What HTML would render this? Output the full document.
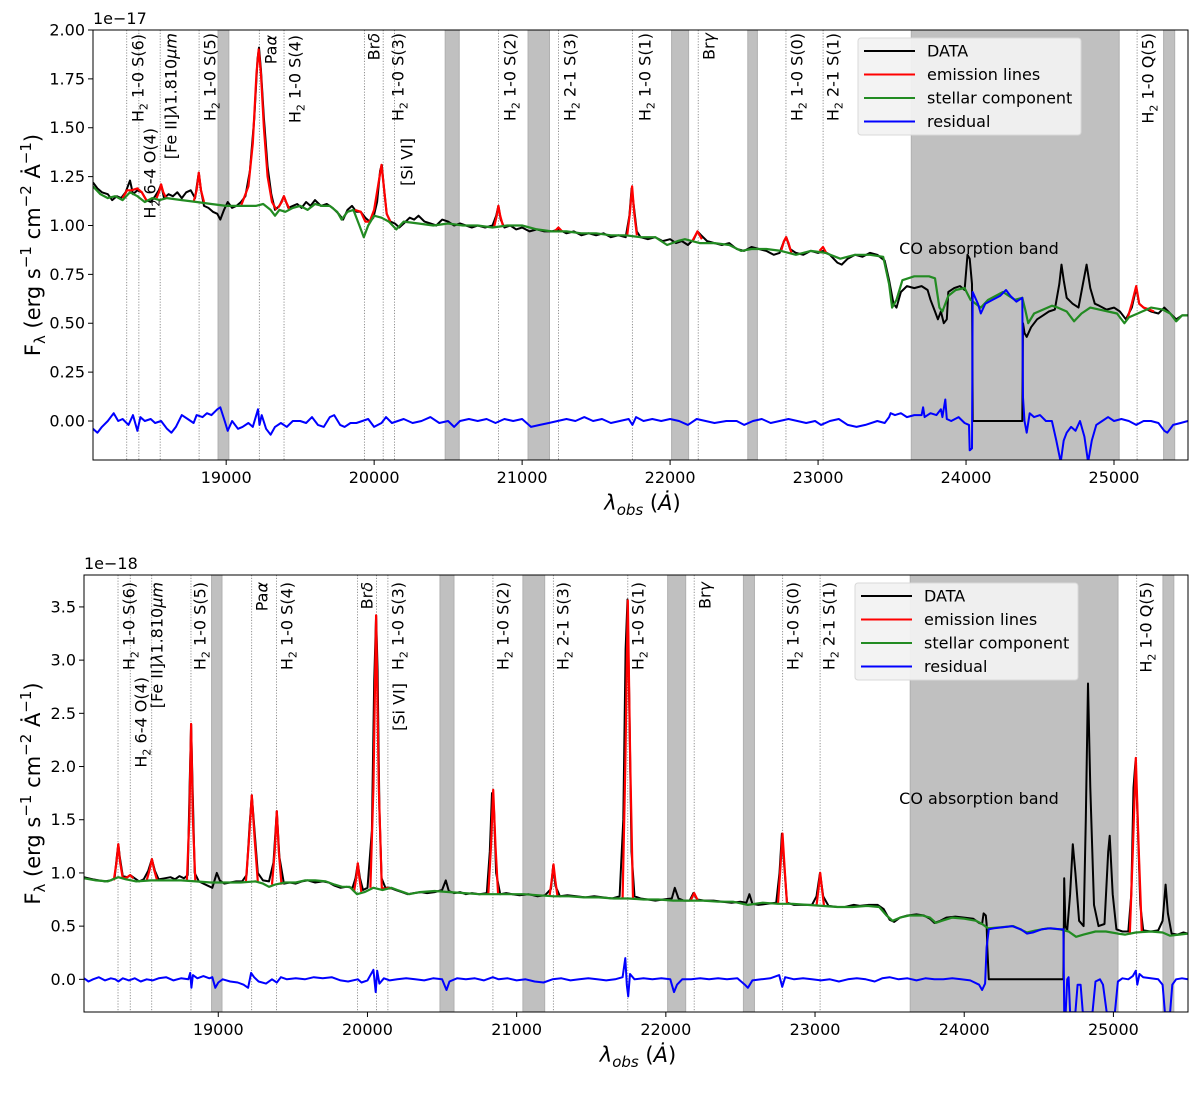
<!DOCTYPE html>
<html><head><meta charset="utf-8"><style>
body{margin:0;background:#fff}
svg{display:block;font-family:"DejaVu Sans","Liberation Sans",sans-serif}
</style></head><body>
<svg id="fig" width="1200" height="1096" viewBox="0 0 1200 1096" xmlns="http://www.w3.org/2000/svg">
<rect width="1200" height="1096" fill="#fff"/>
</svg>
<script>
// ---------- shared data ----------
const xTicks=[19000,20000,21000,22000,23000,24000,25000];
const bandsTop=[[18945,19018],[20480,20575],[21040,21185],[22010,22125],[22525,22590],[23630,25035],[25335,25410]];
const bandsBot=[[18955,19025],[20486,20580],[21042,21188],[22012,22133],[22520,22594],[23638,25031],[25332,25405]];
const lineWaves=[18328,18410,18554,18817,19224,19391,19934,20061,20137,20841,21246,21745,22190,22783,23034,25156];
const labelText=["H2 1-0 S(6)","H2 6-4 O(4)","[Fe II]λ1.810μm","H2 1-0 S(5)","Paα","H2 1-0 S(4)","Brδ","H2 1-0 S(3)","[Si VI]","H2 1-0 S(2)","H2 2-1 S(3)","H2 1-0 S(1)","Brγ","H2 1-0 S(0)","H2 2-1 S(1)","H2 1-0 Q(5)"];
const labelPxTop=[138,150,171,210,271,295,374,398,407,510,570,645,709,797,833,1148];
const labelTopTop=[34,128,33,33,35,35,33,33,138,33,33,33,33,33,33,33];
const labelPxBot=[129,141,157,200,262,287,367,398,399,503,563,638,705,793,829,1146];
const labelTopBot=[582,677,582,582,582,582,582,582,683,582,582,582,582,582,582,582];

// ---------- top panel data (1e-17) ----------
const topYTicks=[0,0.25,0.5,0.75,1.0,1.25,1.5,1.75,2.0];
const topYTickLabels=["0.00","0.25","0.50","0.75","1.00","1.25","1.50","1.75","2.00"];
const topData=[[18100,1.22],[18130,1.19],[18160,1.17],[18200,1.16],[18230,1.13],[18260,1.15],[18290,1.14],[18320,1.17],[18350,1.23],[18370,1.16],[18400,1.18],[18430,1.17],[18460,1.13],[18490,1.12],[18520,1.15],[18545,1.18],[18560,1.21],[18580,1.14],[18610,1.16],[18640,1.15],[18670,1.17],[18700,1.14],[18730,1.17],[18760,1.18],[18790,1.14],[18805,1.22],[18815,1.27],[18830,1.18],[18850,1.10],[18880,1.09],[18910,1.07],[18940,1.06],[18960,1.03],[18985,1.08],[19010,1.12],[19040,1.09],[19070,1.10],[19100,1.12],[19130,1.15],[19160,1.28],[19190,1.55],[19212,1.85],[19222,1.91],[19235,1.80],[19255,1.55],[19280,1.30],[19305,1.16],[19330,1.08],[19360,1.10],[19390,1.15],[19420,1.09],[19450,1.10],[19480,1.11],[19510,1.09],[19540,1.12],[19570,1.10],[19600,1.13],[19640,1.10],[19680,1.11],[19720,1.09],[19760,1.06],[19790,1.03],[19820,1.08],[19850,1.10],[19880,1.07],[19910,1.07],[19940,1.04],[19970,1.02],[19995,1.04],[20020,1.12],[20040,1.28],[20052,1.31],[20065,1.20],[20085,1.06],[20110,1.02],[20140,1.01],[20170,0.99],[20200,1.01],[20240,1.04],[20270,1.03],[20300,1.05],[20340,1.02],[20380,1.01],[20420,1.00],[20460,1.03],[20500,1.02],[20540,1.00],[20580,1.01],[20620,1.00],[20660,0.99],[20700,1.00],[20750,0.99],[20800,1.00],[20825,1.05],[20840,1.10],[20855,1.03],[20880,0.99],[20920,1.00],[20960,0.98],[21000,0.99],[21050,0.97],[21100,0.98],[21150,0.97],[21200,0.97],[21245,0.98],[21300,0.96],[21350,0.97],[21400,0.95],[21450,0.96],[21500,0.95],[21550,0.96],[21600,0.94],[21650,0.95],[21700,0.94],[21725,1.05],[21740,1.19],[21755,1.10],[21775,0.97],[21800,0.94],[21850,0.93],[21900,0.94],[21950,0.92],[22000,0.93],[22040,0.91],[22080,0.92],[22120,0.90],[22160,0.93],[22185,0.97],[22210,0.95],[22250,0.92],[22300,0.91],[22350,0.90],[22400,0.91],[22450,0.88],[22500,0.87],[22550,0.89],[22600,0.88],[22650,0.87],[22700,0.85],[22740,0.86],[22770,0.92],[22785,0.94],[22810,0.88],[22850,0.86],[22900,0.85],[22950,0.87],[23000,0.86],[23035,0.87],[23080,0.85],[23130,0.81],[23160,0.80],[23200,0.83],[23250,0.85],[23300,0.84],[23350,0.86],[23400,0.85],[23450,0.82],[23480,0.72],[23510,0.60],[23530,0.58],[23560,0.66],[23600,0.69],[23650,0.68],[23700,0.69],[23740,0.67],[23760,0.62],[23790,0.56],[23810,0.52],[23830,0.56],[23850,0.50],[23870,0.52],[23880,0.66],[23920,0.68],[23960,0.69],[23990,0.67],[24010,0.85],[24025,0.83],[24040,0.70],[24045,0.0],[24380,0.0],[24385,0.50],[24395,0.45],[24410,0.43],[24440,0.48],[24480,0.52],[24520,0.54],[24560,0.56],[24600,0.57],[24630,0.70],[24645,0.80],[24660,0.72],[24680,0.63],[24720,0.60],[24760,0.58],[24790,0.70],[24815,0.80],[24840,0.68],[24870,0.60],[24900,0.59],[24950,0.57],[25000,0.58],[25040,0.56],[25080,0.52],[25120,0.58],[25150,0.68],[25170,0.60],[25200,0.58],[25250,0.56],[25300,0.55],[25340,0.58],[25380,0.55],[25420,0.52],[25460,0.54],[25500,0.54]];
const topStellar=[[18100,1.20],[18150,1.16],[18200,1.14],[18250,1.15],[18300,1.13],[18350,1.17],[18400,1.15],[18450,1.12],[18500,1.14],[18550,1.13],[18600,1.14],[18700,1.13],[18800,1.12],[18900,1.11],[19000,1.10],[19100,1.10],[19200,1.10],[19250,1.11],[19300,1.08],[19330,1.05],[19360,1.08],[19400,1.07],[19450,1.09],[19500,1.10],[19550,1.08],[19600,1.11],[19650,1.10],[19700,1.10],[19750,1.07],[19780,1.03],[19820,1.07],[19860,1.08],[19900,1.00],[19930,0.94],[19960,1.00],[20000,1.05],[20050,1.04],[20100,1.02],[20150,0.98],[20200,1.02],[20300,1.01],[20400,1.00],[20500,1.01],[20600,1.00],[20700,1.00],[20800,0.99],[20900,1.00],[21000,1.00],[21100,0.98],[21200,0.97],[21300,0.97],[21400,0.96],[21500,0.96],[21600,0.95],[21700,0.95],[21800,0.94],[21900,0.94],[21980,0.90],[22050,0.92],[22100,0.93],[22200,0.91],[22300,0.91],[22400,0.90],[22480,0.87],[22550,0.88],[22650,0.88],[22750,0.87],[22850,0.85],[22950,0.87],[23050,0.86],[23150,0.83],[23250,0.85],[23350,0.85],[23440,0.84],[23480,0.70],[23500,0.58],[23530,0.62],[23570,0.72],[23650,0.74],[23750,0.74],[23790,0.73],[23820,0.58],[23840,0.56],[23880,0.64],[23930,0.67],[23990,0.68],[24030,0.62],[24100,0.58],[24150,0.62],[24250,0.66],[24330,0.62],[24380,0.63],[24400,0.57],[24420,0.50],[24460,0.55],[24520,0.57],[24580,0.59],[24620,0.58],[24680,0.56],[24730,0.51],[24780,0.55],[24840,0.58],[24900,0.57],[24960,0.56],[25020,0.55],[25070,0.50],[25100,0.53],[25160,0.55],[25250,0.58],[25330,0.57],[25380,0.55],[25420,0.51],[25460,0.54],[25500,0.54]];
const topResidual=[[18100,-0.04],[18130,-0.06],[18160,-0.03],[18200,0.0],[18240,0.04],[18270,0.0],[18300,0.01],[18340,-0.02],[18370,0.03],[18400,-0.05],[18420,0.02],[18450,0.0],[18490,0.01],[18520,-0.01],[18560,0.0],[18600,-0.04],[18630,-0.06],[18660,-0.03],[18700,0.03],[18740,0.01],[18780,-0.01],[18800,0.03],[18840,0.02],[18870,0.04],[18900,0.03],[18940,0.06],[18960,0.07],[18990,0.0],[19010,-0.05],[19040,0.0],[19080,-0.04],[19110,-0.03],[19150,-0.01],[19180,-0.03],[19215,0.06],[19225,-0.02],[19240,0.03],[19270,-0.04],[19300,-0.07],[19330,-0.03],[19370,-0.01],[19410,-0.03],[19450,0.0],[19500,0.0],[19540,-0.01],[19580,0.02],[19620,-0.02],[19660,-0.03],[19700,0.02],[19730,0.03],[19770,-0.02],[19800,-0.03],[19840,-0.01],[19880,-0.01],[19920,0.0],[19960,0.01],[20000,-0.03],[20050,-0.01],[20080,0.02],[20120,-0.01],[20160,0.0],[20200,0.01],[20260,-0.01],[20320,0.0],[20380,0.02],[20440,-0.01],[20500,0.0],[20540,-0.03],[20580,0.0],[20640,0.01],[20700,0.0],[20760,0.01],[20820,-0.01],[20880,0.01],[20940,0.0],[21000,0.01],[21060,-0.03],[21120,-0.02],[21180,-0.01],[21240,0.0],[21300,0.01],[21360,0.0],[21420,0.02],[21480,0.0],[21540,0.01],[21600,-0.01],[21660,0.0],[21720,0.01],[21745,-0.02],[21770,0.02],[21820,0.0],[21880,0.01],[21940,0.0],[22000,0.01],[22060,0.0],[22120,-0.02],[22180,0.01],[22240,0.0],[22300,-0.01],[22380,0.0],[22450,0.0],[22500,-0.02],[22560,0.0],[22620,0.01],[22680,-0.01],[22740,0.0],[22800,0.01],[22860,0.0],[22920,-0.01],[22980,0.0],[23020,-0.02],[23080,0.0],[23140,0.01],[23200,-0.02],[23260,-0.03],[23320,-0.02],[23400,0.0],[23450,-0.01],[23480,0.02],[23490,0.04],[23520,0.03],[23560,0.04],[23600,0.02],[23650,0.03],[23700,0.03],[23710,0.07],[23720,0.02],[23760,0.04],[23800,0.03],[23830,0.06],[23840,0.02],[23860,0.11],[23870,0.01],[23900,0.0],[23950,0.02],[23990,-0.01],[24020,-0.02],[24025,-0.15],[24040,-0.14],[24045,0.66],[24080,0.60],[24100,0.55],[24130,0.60],[24180,0.62],[24230,0.64],[24270,0.67],[24300,0.64],[24340,0.61],[24380,0.63],[24385,0.12],[24395,0.0],[24410,-0.06],[24430,0.04],[24460,0.02],[24500,0.03],[24540,0.0],[24580,0.0],[24610,-0.10],[24640,-0.21],[24660,-0.10],[24680,-0.06],[24710,-0.03],[24740,-0.05],[24770,0.0],[24800,-0.08],[24825,-0.21],[24850,-0.10],[24880,-0.02],[24920,0.0],[24960,0.02],[25000,0.0],[25050,0.01],[25100,0.0],[25150,-0.02],[25200,0.0],[25250,0.0],[25300,-0.01],[25340,-0.05],[25360,-0.06],[25400,-0.02],[25450,-0.01],[25500,0.0]];
const topLines=[[18300,1.14],[18330,1.18],[18360,1.18],[18400,1.19],[18430,1.17],[18460,1.13],null,[18530,1.14],[18550,1.18],[18560,1.21],[18575,1.17],[18595,1.14],null,[18780,1.12],[18800,1.18],[18815,1.27],[18830,1.18],[18850,1.12],null,[19100,1.10],[19150,1.20],[19180,1.42],[19205,1.78],[19220,1.90],[19235,1.78],[19255,1.50],[19280,1.25],[19310,1.12],[19340,1.08],null,[19350,1.09],[19375,1.12],[19390,1.15],[19405,1.12],[19430,1.08],null,[19870,1.08],[19910,1.07],[19940,1.02],[19970,1.02],[20000,1.08],[20030,1.22],[20050,1.31],[20065,1.20],[20085,1.06],[20110,1.02],null,[20810,0.99],[20828,1.05],[20840,1.10],[20852,1.05],[20870,1.00],null,[21220,0.97],[21245,0.99],[21270,0.97],null,[21710,0.95],[21728,1.06],[21743,1.20],[21758,1.06],[21776,0.95],null,[22150,0.92],[22185,0.97],[22215,0.93],null,[22750,0.87],[22770,0.92],[22784,0.94],[22800,0.91],[22820,0.86],null,[23010,0.87],[23033,0.89],[23055,0.86],null,[25090,0.52],[25120,0.60],[25150,0.69],[25170,0.60],[25200,0.58],[25240,0.57],[25270,0.56]];

// ---------- bottom panel data (1e-18) ----------
const botYTicks=[0,0.5,1.0,1.5,2.0,2.5,3.0,3.5];
const botYTickLabels=["0.0","0.5","1.0","1.5","2.0","2.5","3.0","3.5"];
const botData=[[18100,0.96],[18130,0.95],[18160,0.94],[18200,0.93],[18240,0.92],[18280,0.93],[18305,0.95],[18320,1.15],[18330,1.27],[18340,1.15],[18360,0.97],[18390,0.96],[18410,0.98],[18440,0.95],[18470,0.92],[18500,0.94],[18530,1.02],[18555,1.13],[18575,1.02],[18600,0.94],[18640,0.95],[18680,0.96],[18710,0.94],[18740,0.97],[18770,0.95],[18795,0.98],[18808,1.80],[18818,2.40],[18828,1.80],[18842,1.00],[18870,0.92],[18900,0.90],[18930,0.88],[18960,0.86],[18990,1.00],[19010,0.93],[19040,0.90],[19080,0.91],[19120,0.92],[19160,0.92],[19190,0.98],[19210,1.45],[19225,1.73],[19240,1.45],[19265,1.00],[19300,0.93],[19340,0.92],[19370,1.10],[19392,1.58],[19410,1.15],[19440,0.90],[19480,0.91],[19520,0.90],[19560,0.92],[19600,0.93],[19650,0.91],[19700,0.92],[19740,0.91],[19780,0.88],[19820,0.86],[19860,0.87],[19900,0.86],[19920,0.95],[19935,1.09],[19950,0.95],[19970,0.84],[20000,0.86],[20030,1.40],[20045,2.80],[20058,3.42],[20068,2.90],[20080,1.60],[20095,0.95],[20120,0.86],[20150,0.86],[20190,0.84],[20230,0.82],[20270,0.80],[20310,0.81],[20360,0.82],[20400,0.81],[20450,0.82],[20500,0.84],[20525,0.93],[20545,0.83],[20580,0.81],[20620,0.82],[20660,0.80],[20700,0.81],[20750,0.80],[20800,0.81],[20820,1.20],[20835,1.75],[20848,1.60],[20862,1.00],[20890,0.80],[20930,0.81],[20970,0.80],[21020,0.79],[21080,0.80],[21140,0.78],[21190,0.79],[21230,0.85],[21245,1.07],[21260,0.88],[21290,0.78],[21340,0.79],[21400,0.78],[21460,0.77],[21520,0.78],[21580,0.77],[21640,0.76],[21690,0.78],[21715,1.50],[21730,3.10],[21743,3.57],[21755,2.60],[21770,1.20],[21790,0.78],[21830,0.76],[21880,0.75],[21930,0.74],[21980,0.75],[22040,0.76],[22060,0.86],[22085,0.76],[22120,0.74],[22160,0.74],[22185,0.81],[22210,0.75],[22260,0.74],[22320,0.74],[22380,0.73],[22440,0.72],[22500,0.73],[22540,0.72],[22560,0.80],[22580,0.71],[22620,0.70],[22680,0.71],[22740,0.72],[22762,1.00],[22778,1.37],[22792,1.10],[22812,0.72],[22860,0.70],[22920,0.70],[22980,0.70],[23010,0.78],[23033,1.00],[23055,0.78],[23090,0.69],[23150,0.68],[23200,0.68],[23260,0.70],[23300,0.69],[23360,0.70],[23420,0.70],[23460,0.66],[23500,0.56],[23530,0.54],[23570,0.58],[23620,0.60],[23680,0.61],[23730,0.60],[23770,0.57],[23800,0.53],[23840,0.55],[23880,0.58],[23940,0.59],[24000,0.58],[24060,0.57],[24100,0.53],[24120,0.52],[24130,0.62],[24145,0.60],[24150,0.52],[24155,0.30],[24165,0.0],[24665,0.0],[24670,0.95],[24678,0.50],[24690,0.46],[24710,0.80],[24728,1.27],[24745,1.00],[24770,0.55],[24800,0.50],[24815,1.50],[24830,2.78],[24845,1.80],[24870,0.70],[24900,0.50],[24940,0.52],[24965,1.20],[24975,1.35],[24995,0.80],[25020,0.47],[25060,0.45],[25100,0.45],[25120,0.80],[25135,1.80],[25148,2.05],[25160,1.60],[25180,0.70],[25200,0.46],[25250,0.45],[25300,0.46],[25330,0.55],[25350,0.89],[25365,0.62],[25390,0.43],[25430,0.42],[25470,0.44],[25500,0.43]];
const botStellar=[[18100,0.95],[18180,0.93],[18260,0.92],[18330,0.96],[18380,0.94],[18450,0.92],[18550,0.93],[18650,0.93],[18750,0.93],[18850,0.92],[18950,0.91],[19050,0.91],[19150,0.91],[19250,0.92],[19300,0.90],[19340,0.87],[19380,0.89],[19450,0.91],[19520,0.91],[19580,0.93],[19650,0.93],[19720,0.92],[19780,0.89],[19830,0.87],[19880,0.87],[19930,0.80],[19980,0.82],[20040,0.86],[20100,0.84],[20160,0.86],[20200,0.84],[20280,0.80],[20350,0.82],[20450,0.83],[20550,0.82],[20650,0.81],[20750,0.80],[20850,0.80],[20950,0.80],[21050,0.80],[21150,0.79],[21250,0.78],[21350,0.78],[21450,0.77],[21550,0.77],[21650,0.76],[21750,0.76],[21850,0.75],[21950,0.75],[22050,0.74],[22150,0.74],[22250,0.74],[22350,0.73],[22450,0.73],[22550,0.70],[22650,0.72],[22750,0.71],[22850,0.71],[22950,0.70],[23050,0.69],[23150,0.68],[23250,0.68],[23350,0.69],[23430,0.68],[23480,0.60],[23520,0.55],[23570,0.58],[23630,0.60],[23720,0.60],[23770,0.58],[23810,0.53],[23850,0.55],[23920,0.58],[24000,0.57],[24080,0.55],[24120,0.52],[24160,0.48],[24250,0.49],[24330,0.50],[24420,0.44],[24480,0.46],[24560,0.48],[24640,0.47],[24700,0.45],[24750,0.40],[24800,0.42],[24880,0.45],[24950,0.45],[25030,0.43],[25080,0.42],[25150,0.44],[25250,0.45],[25330,0.44],[25380,0.41],[25440,0.42],[25500,0.43]];
const botResidual=[[18100,0.01],[18130,-0.02],[18160,0.0],[18200,0.02],[18240,-0.01],[18280,0.01],[18310,0.0],[18330,-0.02],[18360,0.01],[18400,-0.01],[18440,0.01],[18480,-0.02],[18520,0.0],[18560,-0.01],[18600,0.01],[18650,0.02],[18700,-0.01],[18750,0.01],[18800,0.0],[18812,0.06],[18820,-0.08],[18830,0.04],[18860,0.01],[18900,0.03],[18940,0.01],[18960,0.02],[18980,-0.08],[19000,-0.03],[19030,0.0],[19080,-0.02],[19130,-0.03],[19170,-0.05],[19200,-0.08],[19220,0.06],[19240,0.02],[19270,-0.02],[19320,-0.04],[19360,0.0],[19392,-0.03],[19420,0.02],[19460,0.0],[19520,0.01],[19580,0.0],[19640,0.02],[19700,0.01],[19760,0.02],[19820,-0.01],[19870,-0.02],[19935,0.0],[19960,-0.03],[20000,-0.01],[20040,0.09],[20055,-0.12],[20065,0.08],[20080,-0.04],[20110,0.01],[20150,-0.01],[20200,0.0],[20260,0.01],[20320,0.0],[20380,-0.01],[20440,0.01],[20500,0.0],[20530,-0.10],[20550,-0.02],[20600,0.01],[20660,0.0],[20720,0.01],[20780,-0.01],[20840,0.02],[20880,0.0],[20940,0.01],[21000,-0.01],[21060,0.0],[21120,-0.02],[21180,-0.03],[21240,0.0],[21300,0.01],[21360,-0.01],[21420,0.0],[21480,0.01],[21540,0.0],[21600,-0.01],[21660,0.0],[21710,0.02],[21728,0.20],[21738,-0.05],[21748,-0.16],[21760,0.05],[21790,0.0],[21850,0.01],[21910,0.0],[21970,0.01],[22030,0.0],[22055,-0.12],[22075,-0.05],[22110,0.0],[22170,0.0],[22230,0.01],[22290,0.0],[22350,0.01],[22410,0.0],[22480,0.01],[22530,-0.05],[22550,-0.08],[22580,-0.01],[22640,0.0],[22700,0.01],[22760,0.04],[22780,-0.07],[22800,0.02],[22860,0.0],[22920,0.01],[22980,0.0],[23040,-0.01],[23100,0.0],[23160,-0.02],[23220,0.0],[23280,0.01],[23340,0.0],[23400,-0.02],[23450,0.01],[23500,0.02],[23560,0.0],[23620,0.01],[23680,-0.01],[23740,0.01],[23800,0.0],[23860,0.0],[23920,0.01],[23980,0.0],[24040,-0.01],[24100,-0.05],[24120,-0.10],[24140,-0.04],[24150,0.30],[24165,0.47],[24200,0.48],[24260,0.49],[24320,0.50],[24380,0.47],[24420,0.43],[24460,0.44],[24520,0.47],[24580,0.48],[24640,0.47],[24665,0.47],[24670,-0.30],[24680,-0.31],[24690,0.0],[24700,0.02],[24710,-0.31],[24745,-0.31],[24760,-0.05],[24780,-0.05],[24795,-0.31],[24860,-0.31],[24880,-0.02],[24910,0.0],[24930,-0.05],[24955,-0.31],[25010,-0.31],[25030,-0.02],[25060,0.01],[25100,0.0],[25130,0.03],[25150,0.08],[25160,-0.05],[25175,0.05],[25200,0.02],[25250,0.01],[25300,0.0],[25330,-0.05],[25345,-0.31],[25380,-0.31],[25395,-0.05],[25420,0.0],[25460,0.01],[25500,0.0]];
const botLines=[[18300,0.93],[18318,1.10],[18330,1.27],[18342,1.10],[18360,0.95],[18390,0.96],[18410,0.98],[18430,0.95],null,[18520,0.93],[18540,1.03],[18555,1.13],[18570,1.03],[18590,0.93],null,[18790,0.93],[18806,1.50],[18818,2.40],[18830,1.50],[18846,0.93],null,[19185,0.92],[19205,1.30],[19225,1.73],[19245,1.30],[19265,0.92],null,[19360,0.89],[19378,1.20],[19392,1.58],[19406,1.20],[19424,0.89],null,[19910,0.82],[19925,0.96],[19935,1.09],[19945,0.96],[19960,0.81],null,[20020,0.86],[20040,1.80],[20058,3.42],[20076,1.80],[20096,0.86],[20120,0.85],[20137,0.86],[20155,0.85],null,[20810,0.80],[20828,1.25],[20843,1.78],[20858,1.25],[20876,0.80],null,[21220,0.78],[21235,0.93],[21247,1.08],[21259,0.93],[21274,0.78],null,[21710,0.76],[21728,2.00],[21745,3.56],[21762,2.00],[21780,0.76],null,[22165,0.74],[22190,0.81],[22215,0.74],null,[22752,0.71],[22768,1.05],[22782,1.37],[22796,1.05],[22812,0.71],null,[23010,0.69],[23023,0.85],[23035,1.00],[23047,0.85],[23060,0.69],null,[25110,0.42],[25130,1.20],[25150,2.08],[25170,1.20],[25190,0.44]];

// ---------- drawing ----------
const NS="http://www.w3.org/2000/svg";
const svg=document.getElementById('fig');
function mk(tag,attrs,parent){const e=document.createElementNS(NS,tag);for(const k in attrs)e.setAttribute(k,attrs[k]);(parent||svg).appendChild(e);return e;}
function addSpan(t,txt,attrs){const s=document.createElementNS(NS,'tspan');for(const k in (attrs||{}))s.setAttribute(k,attrs[k]);s.textContent=txt;t.appendChild(s);}

function labelContent(t,txt){
  if(txt.startsWith("H2")){
    addSpan(t,"H");addSpan(t,"2",{'font-size':'11','dy':'4'});addSpan(t,txt.slice(2),{'dy':'-4'});
  } else if(txt.startsWith("[Fe")){
    addSpan(t,"[Fe II]");addSpan(t,"λ",{'font-style':'italic'});addSpan(t,"1.810");addSpan(t,"μm",{'font-style':'italic'});
  } else if(txt==="Paα"||txt==="Brδ"||txt==="Brγ"){
    addSpan(t,txt.slice(0,2));addSpan(t,txt.slice(2),{'font-style':'italic'});
  } else t.textContent=txt;
}

function panel(cfg){
  const L=cfg.left,R=cfg.right,T=cfg.top,B=cfg.bottom;
  const xT=w=>L+(w-18100)/(25500-18100)*(R-L);
  const yT=v=>B-(v-cfg.ymin)/(cfg.ymax-cfg.ymin)*(B-T);
  const g=mk('g',{});
  
  
  const cid='clip-'+cfg.name;
  const cp=mk('clipPath',{id:cid},g);mk('rect',{x:L,y:T,width:R-L,height:B-T},cp);
  const pg=mk('g',{'clip-path':'url(#'+cid+')'},g);
  cfg.bands.forEach(b=>{
    const r=mk('rect',{x:xT(b[0]),y:T,width:xT(b[1])-xT(b[0]),height:B-T,fill:'#c0c0c0',stroke:'#b0b0b0','stroke-width':1},pg);
    
    
  });
  lineWaves.forEach(w=>{
    const l=mk('line',{x1:xT(w),x2:xT(w),y1:T,y2:B,stroke:'#777','stroke-width':0.8,'stroke-dasharray':'1.2,1.6'},pg);
    
    
  });
  function path(pts,color,w,name){
    let d='',pen=false;
    pts.forEach(p=>{if(!p){pen=false;return;}d+=(pen?'L':'M')+xT(p[0]).toFixed(1)+','+yT(p[1]).toFixed(1);pen=true;});
    const e=mk('path',{d:d,fill:'none',stroke:color,'stroke-width':w,'stroke-linejoin':'round'},pg);
    
    
  }
  path(cfg.data,'#000',2,'data-series');
  path(cfg.lines,'#ff0000',2.2,'emission-lines-series');
  path(cfg.stellar,'#228b22',2.2,'stellar-component-series');
  path(cfg.resid,'#0000ff',2,'residual-series');
  const fr=mk('rect',{x:L,y:T,width:R-L,height:B-T,fill:'none',stroke:'#000','stroke-width':1},g);
  
  
  xTicks.forEach(v=>{
    mk('line',{x1:xT(v),x2:xT(v),y1:B,y2:B+5,stroke:'#000','stroke-width':1},g);
    const t=mk('text',{x:xT(v),y:B+23,'text-anchor':'middle','font-size':16,fill:'#000'},g);
    t.textContent=v;
    
    
  });
  cfg.yticks.forEach((v,i)=>{
    mk('line',{x1:L-5,x2:L,y1:yT(v),y2:yT(v),stroke:'#000','stroke-width':1},g);
    const t=mk('text',{x:L-8,y:yT(v)+5.5,'text-anchor':'end','font-size':16,fill:'#000'},g);
    t.textContent=cfg.ylabels[i];
    
    
  });
  const ex=mk('text',{x:L,y:T-6,'font-size':16,fill:'#000'},g);
  ex.textContent=cfg.exp;
  
  
  labelText.forEach((txt,i)=>{
    const t=mk('text',{transform:'translate('+(cfg.lpx[i]+5.5)+','+cfg.ltop[i]+') rotate(-90)','text-anchor':'end','font-size':16,fill:'#000'},g);
    labelContent(t,txt);
    
    
  });
  const co=mk('text',{x:979,y:cfg.coY,'text-anchor':'middle','font-size':16,fill:'#000'},g);
  co.textContent='CO absorption band';
  
  
  const lg=mk('g',{},g);
  
  
  mk('rect',{x:cfg.legX,y:cfg.legY,width:223,height:97,rx:3,fill:'#f2f2f2','fill-opacity':0.93,stroke:'#d8d8d8','stroke-width':1},lg);
  [['DATA','#000'],['emission lines','#ff0000'],['stellar component','#228b22'],['residual','#0000ff']].forEach((e,i)=>{
    const yy=cfg.legY+13+i*23.5;
    const ln=mk('line',{x1:cfg.legX+6,x2:cfg.legX+57,y1:yy,y2:yy,stroke:e[1],'stroke-width':2},lg);
    
    
    const t=mk('text',{x:cfg.legX+69,y:yy+5.5,'font-size':16,fill:'#000'},lg);
    t.textContent=e[0];
    
    
  });
  const xl=mk('text',{x:(L+R)/2+2,y:B+50,'text-anchor':'middle','font-size':21,fill:'#000'},g);
  xl.innerHTML='<tspan font-style="italic">λ</tspan><tspan font-style="italic" font-size="15" dy="5">obs</tspan><tspan dy="-5"> (</tspan><tspan font-style="italic">Ȧ</tspan><tspan>)</tspan>';
  
  
  const yl=mk('text',{transform:'translate(40,'+((T+B)/2)+') rotate(-90)','text-anchor':'middle','font-size':21,fill:'#000'},g);
  yl.innerHTML='F<tspan font-size="15" dy="5">λ</tspan><tspan dy="-5"> (erg s</tspan><tspan font-size="15" dy="-9">−1</tspan><tspan dy="9"> cm</tspan><tspan font-size="15" dy="-9">−2</tspan><tspan dy="9"> Ȧ</tspan><tspan font-size="15" dy="-9">−1</tspan><tspan dy="9">)</tspan>';
  
  
}

panel({name:'top-panel',left:93,right:1188,top:30,bottom:460,ymin:-0.1995,ymax:2.0,bands:bandsTop,data:topData,stellar:topStellar,lines:topLines,resid:topResidual,yticks:topYTicks,ylabels:topYTickLabels,exp:'1e−17',lpx:labelPxTop,ltop:labelTopTop,coY:254,legX:858,legY:38});
panel({name:'bottom-panel',left:84,right:1188,top:575,bottom:1012,ymin:-0.307,ymax:3.80,bands:bandsBot,data:botData,stellar:botStellar,lines:botLines,resid:botResidual,yticks:botYTicks,ylabels:botYTickLabels,exp:'1e−18',lpx:labelPxBot,ltop:labelTopBot,coY:804,legX:855,legY:583});
</script>
</body></html>
